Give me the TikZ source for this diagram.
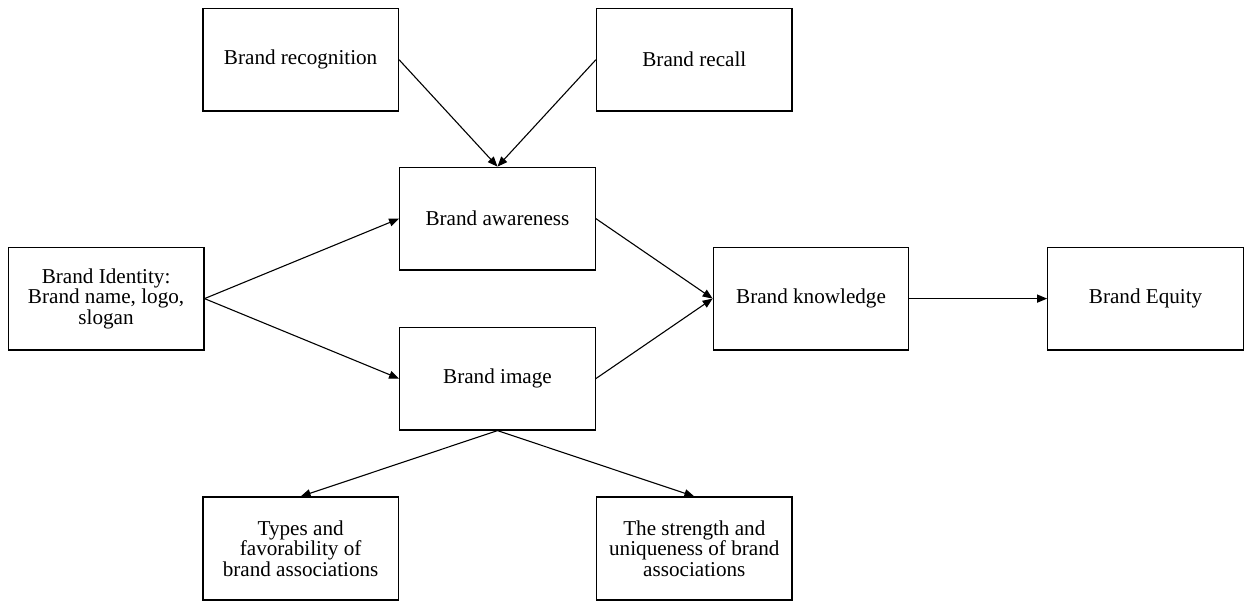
\documentclass[tikz,border=0pt]{standalone}
\usepackage{fontspec}
\setmainfont{Liberation Serif}
\usetikzlibrary{arrows.meta,positioning,calc}

\begin{document}
\begin{tikzpicture}[
  node distance=28pt and 58.5pt,
  box/.style={draw, line width=0.65pt, align=center, inner sep=2pt, minimum width=98pt, minimum height=51.5pt, font=\fontsize{10.6}{10.3}\selectfont},
  arrow/.style={-{Triangle[length=5pt,width=4pt]}, line width=0.55pt}
]
\node[box] (awareness) {Brand awareness};
\node[box, below=of awareness] (image) {Brand image};
\coordinate (midwest) at ($(awareness.west)!0.5!(image.west)$);
\coordinate (mideast) at ($(awareness.east)!0.5!(image.east)$);

\node[box, left=97.5pt of midwest] (identity) {Brand Identity:\\Brand name, logo,\\slogan};
\node[box, right=of mideast] (knowledge) {Brand knowledge};
\node[box, right=69pt of knowledge] (equity) {Brand Equity};

\node[box, above left=27.5pt and 0pt of awareness.north west] (recognition) {Brand recognition};
\node[box, above right=27.5pt and 0pt of awareness.north east] (recall) {Brand recall};
\node[box, below left=33pt and 0pt of image.south west] (types) {Types and\\favorability of\\brand associations};
\node[box, below right=33pt and 0pt of image.south east] (strength) {The strength and\\uniqueness of brand\\associations};

\useasboundingbox ($(awareness.north west)+(-200pt,83.5pt)$) rectangle ++(622pt,-300.5pt);

\draw[arrow] (recognition.east) -- (awareness.north);
\draw[arrow] (recall.west) -- (awareness.north);
\draw[arrow] (identity.east) -- (awareness.west);
\draw[arrow] (identity.east) -- (image.west);
\draw[arrow] (awareness.east) -- (knowledge.west);
\draw[arrow] (image.east) -- (knowledge.west);
\draw[arrow] (knowledge) -- (equity);
\draw[arrow] (image.south) -- (types.north);
\draw[arrow] (image.south) -- (strength.north);
\end{tikzpicture}
\end{document}
